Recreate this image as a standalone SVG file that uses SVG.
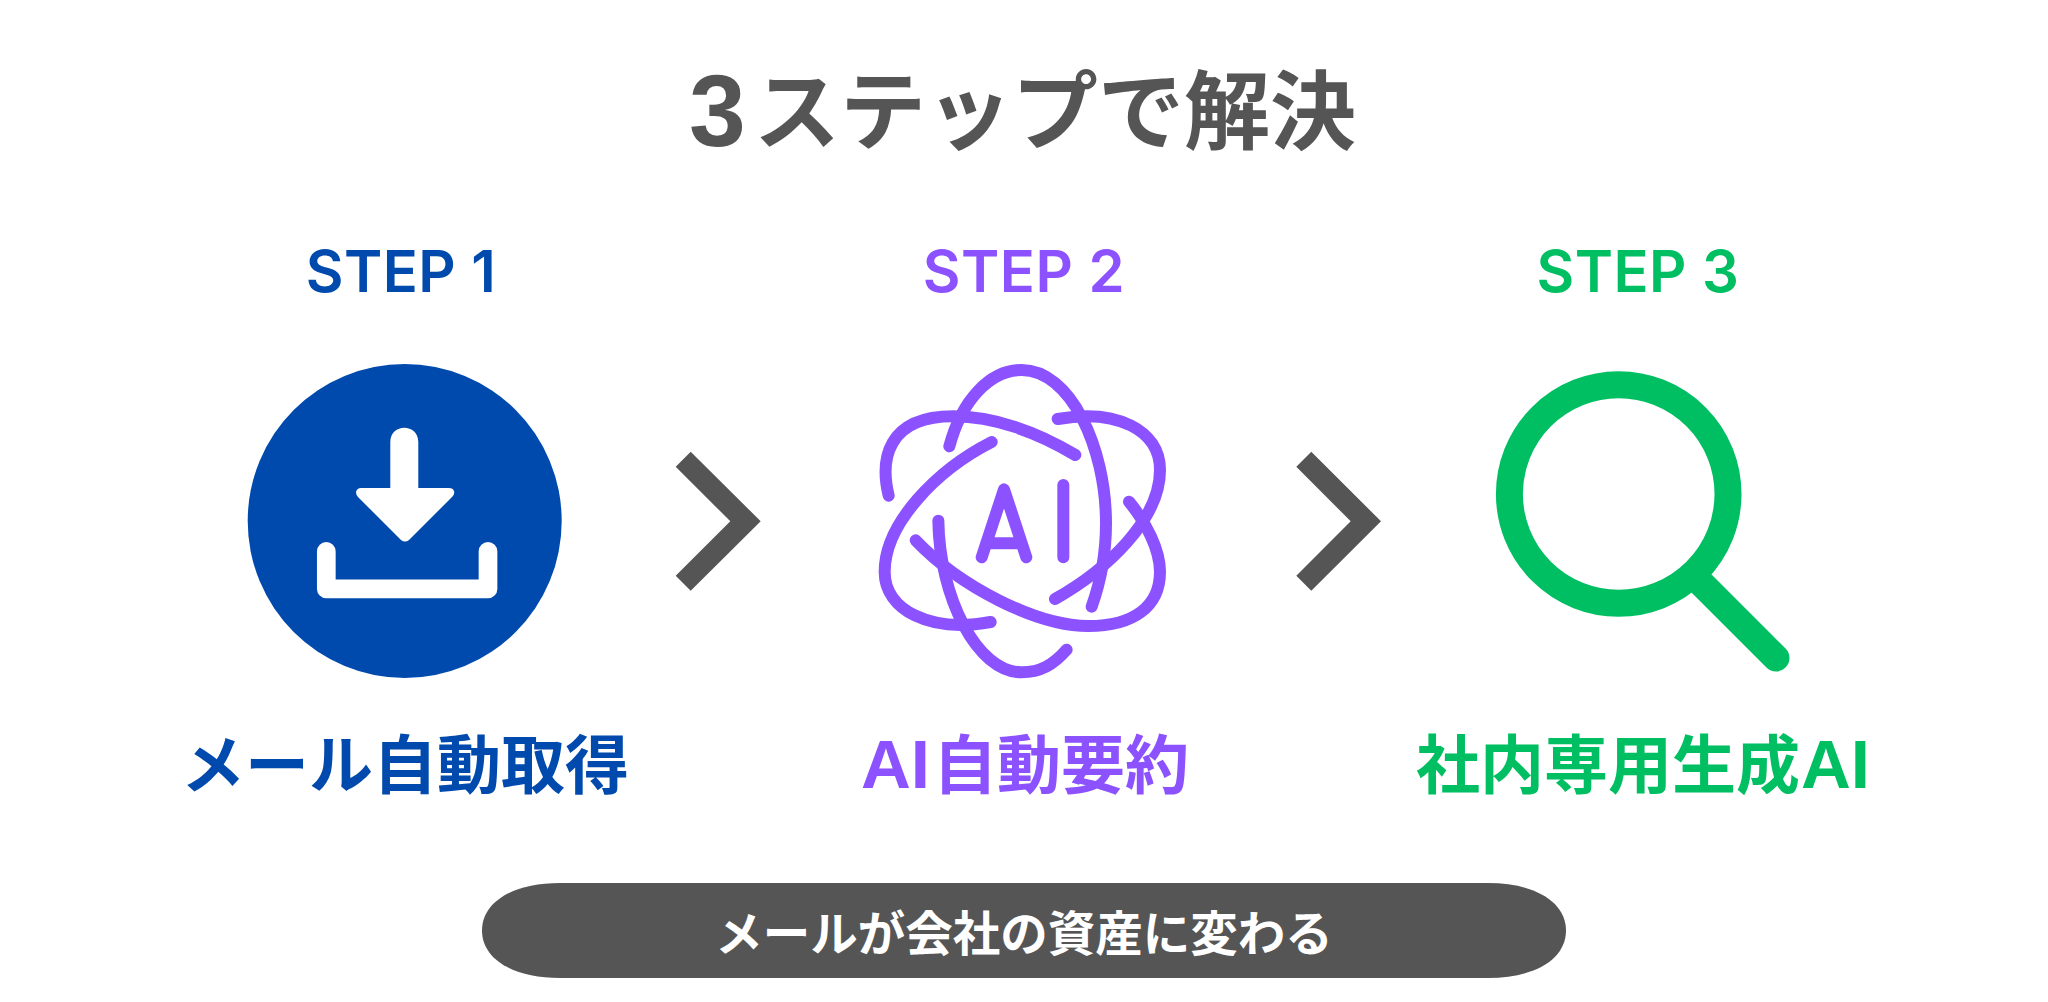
<svg xmlns="http://www.w3.org/2000/svg" width="2048" height="1002" viewBox="0 0 2048 1002">
<style>
text{font-family:"Liberation Sans","Noto Sans CJK JP",sans-serif;font-weight:700}
.title{font-size:86px;fill:#555555}
.step{font-family:Inter,"Liberation Sans",sans-serif;font-weight:600;font-size:58px;letter-spacing:0.500px;text-anchor:middle}
.label{font-size:64px}
.mid{text-anchor:middle}
.lat{font-size:69px}
.blue{fill:#004aad}.purple{fill:#8c52ff}.green{fill:#00bf63}
.atom{fill:none;stroke:#8c52ff;stroke-width:36;stroke-linecap:round;stroke-linejoin:round}
.chev{fill:#555555}
</style>
<rect width="2048" height="1002" fill="#ffffff"/>
<g id="title"><text class="title" y="143"><tspan x="689" y="146" font-size="102">3</tspan><tspan x="754" y="143">ステップで解決</tspan></text></g>
<g id="step1">
<text class="step blue" x="401" y="292">STEP 1</text>
<circle cx="404.700" cy="521" r="157" fill="#004aad"/>
<path fill="#ffffff" d="M390.300 442C390.300 423 418.300 423 418.300 442V488H449Q453 488 454 491Q455 494 452 497L409 540Q405 543 401 540L358 497Q356 495 356 492Q357 488 361 488H390.300Z"/>
<path fill="none" stroke="#ffffff" stroke-width="18.700" stroke-linecap="round" stroke-linejoin="round" d="M326.300 551.300V588.900H488V551.300"/>
<text class="label blue mid" x="405" y="788">メール自動取得</text>
</g>
<g id="connectors">
<polygon class="chev" points="675.700,466.700 690.700,451.700 760.700,521.300 690.700,590.700 675.700,575.700 730.300,521.300"/>
<polygon class="chev" points="1296.300,466.700 1311.300,451.700 1381,521.300 1311.300,590.700 1296.300,575.700 1350.700,521.300"/>
</g>
<g id="step2">
<text class="step purple" x="1024" y="292">STEP 2</text>
<g transform="translate(850 350) scale(0.33333)">
<path class="atom" d="M116 437C90 330 110 199 310 199C430 199 560 245 676 315"/>
<path class="atom" d="M298 289C335 150 420 60 515 60C660 60 768 290 768 520C768 610 752 695 725 770"/>
<path class="atom" d="M623 207C800 175 930 240 930 360C930 510 770 660 615 747"/>
<path class="atom" d="M425 276C260 360 104 520 104 665C104 780 240 850 422 816"/>
<path class="atom" d="M265 512C268 740 380 967 515 967C570 967 610 945 650 899"/>
<path class="atom" d="M197 571C330 710 560 828 715 828C850 828 930 770 930 665C930 600 890 520 837 455"/>
<path class="atom" d="M395 622L462 418L529 622M423 580H501M640 405V622"/>
</g>
<text class="label purple" y="788"><tspan class="lat" x="861">AI</tspan><tspan x="933">自動要約</tspan></text>
</g>
<g id="step3">
<text class="step green" x="1638" y="292">STEP 3</text>
<circle cx="1618.700" cy="494" r="109.300" fill="none" stroke="#00bf63" stroke-width="27"/>
<path fill="none" stroke="#00bf63" stroke-width="27" stroke-linecap="round" d="M1701 583L1776 658"/>
<text class="label green" y="788"><tspan x="1416">社内専用生成</tspan><tspan class="lat" x="1801">AI</tspan></text>
</g>
<g id="banner">
<path fill="#555555" d="M560 883H1488C1535 883 1566 902 1566 930.500C1566 959 1535 978 1488 978H560C513 978 482 959 482 930.500C482 902 513 883 560 883Z"/>
<text class="mid" x="1024" y="951" font-size="47.500" fill="#ffffff">メールが会社の資産に変わる</text>
</g>
</svg>
